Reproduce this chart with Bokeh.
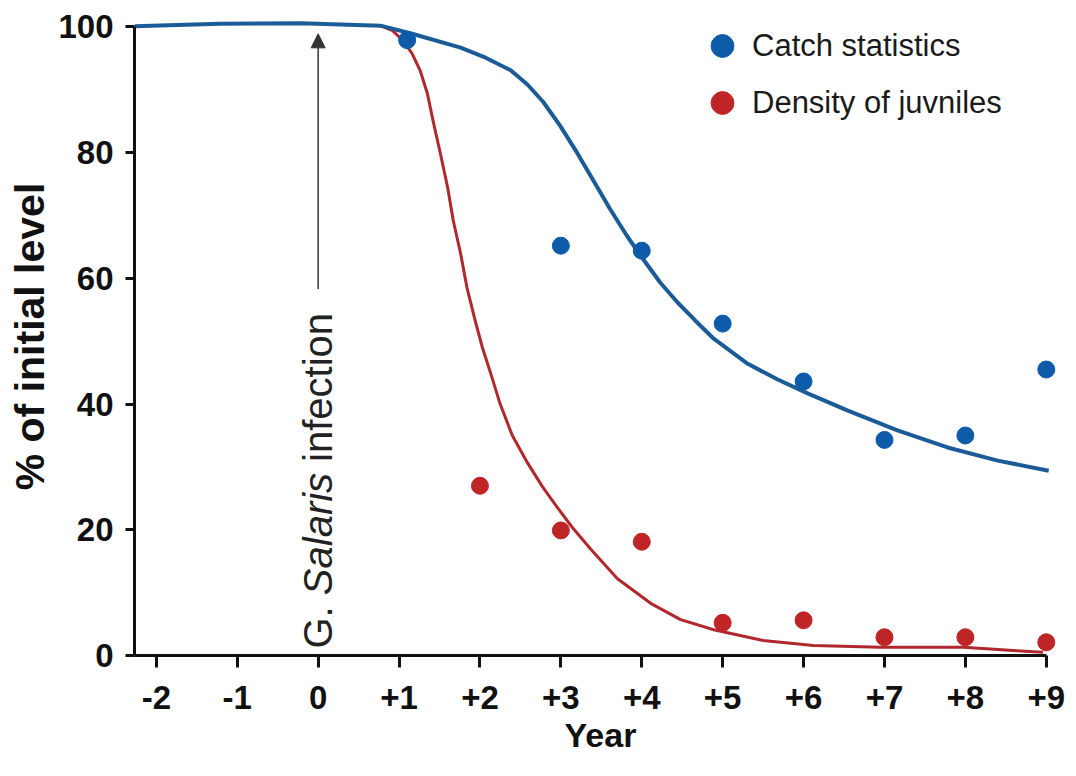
import math
from bokeh.plotting import figure
from bokeh.models import Range1d, FixedTicker, Legend, LegendItem, Arrow, NormalHead
from bokeh.core.properties import value
from bokeh.embed import file_html
from bokeh.resources import INLINE

# ---------------- data ----------------
year_ticks = [-2, -1, 0, 1, 2, 3, 4, 5, 6, 7, 8, 9]
year_tick_labels = ["-2", "-1", "0", "+1", "+2", "+3", "+4", "+5", "+6", "+7", "+8", "+9"]
level_ticks = [0, 20, 40, 60, 80, 100]

catch_years = [1.1, 3, 4, 5, 6, 7, 8, 9]
catch_values = [97.9, 65.2, 64.4, 52.8, 43.6, 34.3, 35.0, 45.5]

juvenile_years = [2, 3, 4, 5, 6, 7, 8, 9]
juvenile_values = [27.0, 19.9, 18.1, 5.2, 5.6, 2.9, 2.9, 2.1]

catch_fit_x = [-2.27, -1.21, -0.22, 0.77, 1.14, 1.76, 2.07, 2.38, 2.59, 2.78,
               2.99, 3.20, 3.40, 3.61, 3.82, 4.02, 4.23, 4.44, 4.66, 4.89,
               5.31, 5.68, 6.05, 6.54, 7.16, 7.78, 8.40, 9.03]
catch_fit_y = [100.1, 100.5, 100.6, 100.2, 99.0, 96.7, 95.1, 93.1, 90.8, 88.1,
               84.3, 80.0, 75.6, 71.0, 66.7, 63.0, 59.3, 56.2, 53.3, 50.4,
               46.4, 43.9, 41.7, 39.0, 35.8, 33.1, 31.0, 29.4]

juvenile_fit_x = [0.77, 0.92, 1.05, 1.16, 1.26, 1.35, 1.42, 1.51, 1.60, 1.67,
                  1.76, 1.84, 1.94, 2.03, 2.13, 2.25, 2.40, 2.59, 2.77, 2.96,
                  3.14, 3.37, 3.70, 4.11, 4.48, 4.89, 5.50, 6.12, 6.95, 7.98,
                  8.59, 8.96]
juvenile_fit_y = [100.2, 99.4, 97.8, 95.8, 93.1, 89.4, 85.1, 79.9, 74.5, 69.2,
                  64.0, 58.5, 53.3, 49.0, 45.0, 40.0, 35.0, 30.6, 26.9, 23.5,
                  20.4, 16.9, 12.2, 8.3, 5.7, 4.1, 2.4, 1.6, 1.3, 1.3,
                  0.8, 0.5]

infection_year = 0
arrow_from, arrow_to = 58.3, 98.9

# ---------------- style ----------------
BLUE_PT, BLUE_LN = "#0d5ba9", "#1b5b97"
RED_PT, RED_LN = "#bf2526", "#b0282d"
FONT = "Liberation Sans"

p = figure(width=1068, height=768,
           x_range=Range1d(-2.27, 9.25), y_range=Range1d(0, 101.5),
           output_backend="svg", toolbar_location=None,
           min_border_left=134, min_border_right=2, min_border_top=17, min_border_bottom=113)
p.background_fill_color = "white"
p.border_fill_color = "white"
p.outline_line_color = None
p.grid.visible = False

xa = p.xaxis[0]
xa.ticker = FixedTicker(ticks=year_ticks)
xa.major_label_overrides = {t: l for t, l in zip(year_ticks, year_tick_labels)}
xa.bounds = (-2.27, 9.0)
xa.major_tick_out = 12
xa.major_tick_in = 0
xa.minor_tick_line_color = None
xa.major_label_standoff = 18
xa.major_label_text_font = FONT
xa.major_label_text_font_style = "bold"
xa.major_label_text_font_size = "33px"
xa.major_label_text_color = "#111111"
xa.axis_label = "Year"
xa.axis_label_text_font = FONT
xa.axis_label_text_font_style = "bold"
xa.axis_label_text_font_size = "34px"
xa.axis_label_text_color = "#111111"
xa.axis_label_standoff = 4

ya = p.yaxis[0]
ya.ticker = FixedTicker(ticks=level_ticks)
ya.bounds = (0, 100)
ya.major_tick_out = 9
ya.major_tick_in = 0
ya.minor_tick_line_color = None
ya.major_label_standoff = 12
ya.major_label_text_font = FONT
ya.major_label_text_font_style = "bold"
ya.major_label_text_font_size = "33px"
ya.major_label_text_color = "#111111"
ya.axis_label = "% of initial level"
ya.axis_label_text_font = FONT
ya.axis_label_text_font_style = "bold"
ya.axis_label_text_font_size = "41px"
ya.axis_label_text_color = "#111111"
ya.axis_label_standoff = 2

for ax in (xa, ya):
    ax.axis_line_width = 3
    ax.axis_line_color = "#111111"
    ax.major_tick_line_width = 3
    ax.major_tick_line_color = "#111111"

# fitted curves
p.line(juvenile_fit_x, juvenile_fit_y, line_color=RED_LN, line_width=3, line_join="round")
p.line(catch_fit_x, catch_fit_y, line_color=BLUE_LN, line_width=4, line_join="round")

# observations
r_catch = p.scatter(catch_years, catch_values, size=17, fill_color=BLUE_PT, line_color=BLUE_PT)
r_juv = p.scatter(juvenile_years, juvenile_values, size=17, fill_color=RED_PT, line_color=RED_PT)

# infection arrow + text
p.add_layout(Arrow(end=NormalHead(size=14, fill_color="#333333", line_color="#333333", line_width=1),
                   x_start=infection_year, y_start=arrow_from, x_end=infection_year, y_end=arrow_to,
                   line_color="#333333", line_width=1.5))
ann_font = value(FONT)
p.text(x=[infection_year], y=[1.1], text=["G."], angle=math.pi / 2,
       text_font=ann_font, text_font_size="40px", text_align="left",
       text_baseline="middle", text_color="#222222")
p.text(x=[infection_year], y=[9.6], text=["Salaris"], angle=math.pi / 2,
       text_font=ann_font, text_font_size="40px", text_font_style="italic",
       text_align="left", text_baseline="middle", text_color="#222222")
p.text(x=[infection_year], y=[30.8], text=["infection"], angle=math.pi / 2,
       text_font=ann_font, text_font_size="40px", text_align="left",
       text_baseline="middle", text_color="#222222")

legend = Legend(items=[LegendItem(label="Catch statistics", renderers=[r_catch]),
                       LegendItem(label="Density of juvniles", renderers=[r_juv])],
                location=(559, 524), glyph_width=58, glyph_height=57, spacing=0,
                padding=0, margin=0, label_standoff=1,
                label_text_font=FONT, label_text_font_size="31px",
                label_text_color="#1a1a1a", border_line_color=None,
                background_fill_alpha=0)
p.add_layout(legend)

open("out.html", "w").write(file_html(p, INLINE))
